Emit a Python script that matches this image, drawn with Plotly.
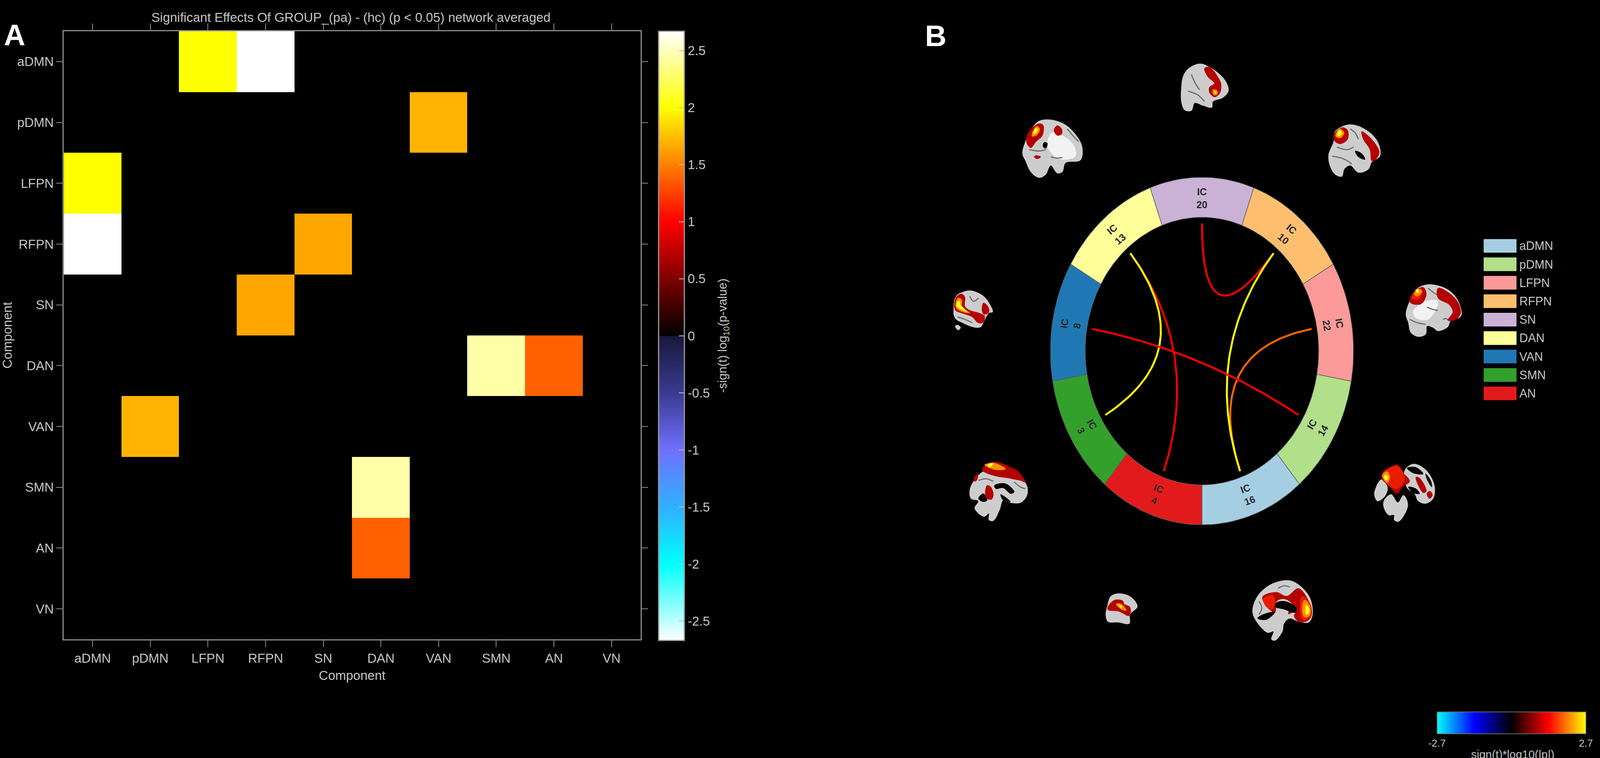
import numpy as np
import plotly.graph_objects as go
from plotly.colors import sample_colorscale

W, H = 4317, 1941
TXT = "#c4c4c4"
AXC = "#8a8a8a"
FONT = "Liberation Sans, Arial, sans-serif"

# panel A: network matrix, symmetric, upper triangle entries
networks = ["aDMN", "pDMN", "LFPN", "RFPN", "SN", "DAN", "VAN", "SMN", "AN", "VN"]
effects = [
    ("aDMN", "LFPN", 2.0),
    ("aDMN", "RFPN", 2.67),
    ("pDMN", "VAN", 1.7),
    ("RFPN", "SN", 1.65),
    ("DAN", "SMN", 2.44),
    ("DAN", "AN", 1.38),
]
tick_vals = [2.5, 2, 1.5, 1, 0.5, 0, -0.5, -1, -1.5, -2, -2.5]
tick_text = ["2.5", "2", "1.5", "1", "0.5", "0", "-0.5", "-1", "-1.5", "-2", "-2.5"]

# colour map of the matrix
cmap_vals = [-2.67, -2.0, -1.5, -1.0, -0.5, -0.005, 0, 1.0, 2.0, 2.67]
cmap_cols = ["#ffffff", "#00ffff", "#2fb0ff", "#7070ff", "#3a3a90", "#18183c",
             "#000000", "#ff0000", "#ffff00", "#ffffff"]

# panel B: ring, clockwise from the top
ic_names = [20, 10, 22, 14, 16, 4, 3, 8, 13]
ic_angle = [90, 50, 10, -30, -70, -110, -150, 170, 130]
ic_turn = [0, 40, 80, -60, -20, 20, 60, -80, -40]
ic_cols = ["#cab2d6", "#fdbf6f", "#fb9a99", "#b2df8a", "#a6cee3",
           "#e31a1c", "#33a02c", "#1f78b4", "#ffff99"]

chord_from = [13, 13, 22, 20, 10, 8]
chord_to = [4, 3, 16, 10, 16, 14]
chord_values = [1.35, 2.7, 1.89, 1.35, 2.7, 1.35]

legend_names = ["aDMN", "pDMN", "LFPN", "RFPN", "SN", "DAN", "VAN", "SMN", "AN"]
legend_cols = ["#a6cee3", "#b2df8a", "#fb9a99", "#fdbf6f", "#cab2d6",
               "#ffff99", "#1f78b4", "#33a02c", "#e31a1c"]

ring_scale = [[0, "#00ffff"], [0.25, "#0000ff"], [0.5, "#000000"], [0.75, "#ff0000"], [1, "#ffff00"]]

GREY = "#cdcdcd"
WHITE = "#f2f2f2"
DARK = "#000000"
RED = "#b40000"
HOT = "#ea1c00"
ORG = "#ff9000"
YEL = "#ffff20"
FOLD = "#6e6e6e"

# brain slices, outlines traced by eye: origin of the crop, scale of the crop, layers
brains = [
    # top
    ((2500, 100), 1.12, 3, [
        (GREY, [(825,190),(855,215),(885,270),(905,330),(912,400),(895,450),(865,480),(862,525),(835,510),(810,490),(800,550),(780,545),(770,480),(770,380),(775,290),(790,230)]),
        (FOLD, [(800,270),(810,330),(825,390)]),
        (FOLD, [(790,400),(820,430),(840,480)]),
        (RED, [(840,225),(855,215),(880,290),(890,350),(885,420),(870,445),(855,410),(855,370),(870,340),(850,290)]),
        (ORG, [(865,390),(878,395),(878,425),(868,430)]),
        (YEL, [(869,400),(875,405),(873,420)]),
    ]),
    # upper left
    ((2500, 100), 1.12, 3, [
        (GREY, [(340,630),(375,620),(420,660),(455,750),(470,830),(465,930),(420,950),(410,1020),(395,1030),(375,970),(360,1040),(340,1065),(315,1020),(300,940),(290,880),(300,780),(320,680)]),
        (WHITE, [(380,720),(440,800),(450,900),(400,920),(365,820)]),
        (FOLD, [(425,690),(445,750),(460,790)]),
        (FOLD, [(310,850),(340,860),(360,850)]),
        (FOLD, [(375,905),(395,915),(410,910)]),
        (RED, [(340,650),(352,660),(350,740),(330,790),(315,835),(303,800),(305,730),(325,670)]),
        (RED, [(395,665),(408,690),(408,730),(395,740),(385,700)]),
        (RED, [(330,895),(345,905),(335,920),(325,905)]),
        (DARK, [(355,795),(365,800),(360,840),(352,825)]),
        (ORG, [(332,670),(342,690),(332,740),(318,745)]),
        (YEL, [(330,685),(336,695),(328,725),(322,725)]),
    ]),
    # upper right
    ((2500, 100), 1.12, 3, [
        (GREY, [(1270,660),(1300,665),(1340,720),(1365,800),(1370,900),(1345,945),(1335,1000),(1305,1025),(1280,970),(1262,1000),(1255,1055),(1235,1040),(1220,980),(1215,890),(1230,790),(1235,710)]),
        (FOLD, [(1280,690),(1295,720),(1305,770)]),
        (FOLD, [(1240,830),(1270,850),(1290,830)]),
        (FOLD, [(1225,900),(1260,920),(1285,960)]),
        (RED, [(1255,680),(1272,700),(1272,770),(1250,805),(1232,780),(1232,730)]),
        (RED, [(1315,710),(1345,770),(1368,870),(1355,930),(1345,935),(1340,850),(1320,770)]),
        (DARK, [(1295,860),(1315,880),(1325,925),(1305,905)]),
        (ORG, [(1248,690),(1262,720),(1250,760),(1236,745)]),
        (YEL, [(1248,700),(1255,720),(1248,745),(1241,740)]),
    ]),
    # right
    ((3680, 700), 3, 2.376, [
        (GREY, [(370,170),(420,100),(500,70),(600,75),(700,110),(770,180),(785,260),(700,290),(680,325),(600,350),(560,330),(510,320),(500,370),(440,385),(380,360),(360,300),(340,250)]),
        (WHITE, [(400,230),(500,170),(600,170),(520,280),(420,270)]),
        (FOLD, [(510,205),(560,220),(600,225)]),
        (FOLD, [(640,280),(665,275),(680,285)]),
        (FOLD, [(520,90),(560,115),(590,130)]),
        (FOLD, [(370,280),(430,300),(500,310)]),
        (RED, [(370,170),(410,110),(480,85),(505,125),(465,185),(390,185)]),
        (RED, [(600,90),(700,125),(770,190),(780,250),(730,285),(680,285),(720,235),(690,190),(600,150)]),
        (HOT, [(385,150),(425,105),(470,100),(470,130),(430,160)]),
        (ORG, [(405,125),(450,95),(470,110),(430,140)]),
        (YEL, [(420,105),(440,97),(443,115),(428,118)]),
    ]),
    # lower right
    ((3680, 700), 3, 2.376, [
        (GREY, [(140,1255),(190,1300),(170,1355),(110,1385),(85,1340)]),
        (GREY, [(330,1200),(400,1160),(500,1195),(570,1290),(560,1370),(500,1400),(440,1385),(410,1340),(350,1305)]),
        (GREY, [(165,1380),(220,1345),(275,1395),(320,1350),(355,1400),(340,1450),(280,1510),(245,1500),(245,1470),(200,1470),(160,1420)]),
        (DARK, [(350,1185),(420,1180),(480,1220),(400,1215)]),
        (DARK, [(500,1220),(540,1260),(550,1300),(515,1260)]),
        (DARK, [(360,1300),(420,1310),(450,1340),(400,1335)]),
        (RED, [(150,1215),(210,1180),(275,1165),(300,1200),(370,1265),(310,1300),(270,1340),(200,1290),(145,1250)]),
        (RED, [(420,1240),(450,1245),(505,1325),(480,1335)]),
        (RED, [(510,1340),(535,1325),(555,1350),(530,1370)]),
        (HOT, [(150,1225),(205,1185),(280,1175),(330,1250),(270,1310),(190,1285)]),
        (ORG, [(150,1230),(185,1205),(210,1235),(190,1275)]),
        (YEL, [(165,1230),(185,1230),(195,1250),(175,1258)]),
    ]),
    # bottom right
    ((2950, 1440), 2.529, 3, [
        (GREY, [(1130,245),(1220,165),(1340,140),(1420,190),(1480,280),(1495,400),(1470,460),(1400,455),(1340,430),(1300,470),(1290,530),(1240,600),(1215,590),(1230,530),(1190,540),(1130,480),(1090,400),(1090,340)]),
        (FOLD, [(1260,200),(1300,180),(1340,190)]),
        (FOLD, [(1130,300),(1150,350),(1130,400)]),
        (RED, [(1155,265),(1250,230),(1320,260),(1400,200),(1470,300),(1490,400),(1460,450),(1400,455),(1370,410),(1390,370),(1330,395),(1355,320),(1300,280),(1250,300),(1240,380),(1190,350)]),
        (DARK, [(1250,310),(1310,300),(1385,350),(1380,385),(1300,360),(1240,340)]),
        (DARK, [(1160,400),(1240,380),(1180,440),(1120,430)]),
        (HOT, [(1160,280),(1225,255),(1240,310),(1220,360),(1180,340)]),
        (HOT, [(1425,260),(1480,320),(1485,410),(1430,445),(1410,360)]),
        (ORG, [(1440,290),(1475,330),(1475,410),(1440,420),(1425,360)]),
        (YEL, [(1452,330),(1470,350),(1470,390),(1452,400)]),
    ]),
    # bottom left
    ((2950, 1440), 2.529, 3, [
        (GREY, [(120,260),(180,240),(260,270),(300,340),(250,400),(245,470),(170,460),(100,455),(85,400),(95,340)]),
        (RED, [(100,340),(145,290),(200,295),(210,320),(250,345),(245,410),(170,375),(100,365)]),
        (ORG, [(155,320),(190,320),(225,370),(190,360)]),
        (YEL, [(175,325),(195,340),(190,350)]),
    ]),
    # lower left
    ((2540, 700), 3, 2.376, [
        (GREY, [(330,1210),(420,1195),(560,1240),(660,1260),(695,1300),(690,1355),(640,1395),(560,1395),(500,1380),(470,1440),(420,1505),(385,1500),(385,1460),(345,1480),(270,1430),(300,1385),(240,1370),(230,1320),(265,1260)]),
        (DARK, [(430,1290),(520,1280),(590,1330),(560,1340),(500,1305),(440,1310)]),
        (DARK, [(340,1340),(370,1380),(340,1390),(300,1370)]),
        (DARK, [(480,1345),(560,1390),(500,1380)]),
        (FOLD, [(300,1260),(360,1250),(420,1265)]),
        (FOLD, [(590,1270),(640,1300),(680,1310)]),
        (RED, [(330,1190),(380,1155),(460,1150),(560,1180),(620,1205),(680,1270),(640,1260),(570,1250),(540,1245),(450,1235),(340,1205)]),
        (RED, [(370,1290),(400,1300),(420,1350),(405,1375),(370,1370),(355,1340)]),
        (RED, [(270,1235),(295,1225),(285,1260),(265,1265)]),
        (ORG, [(350,1165),(430,1155),(520,1190),(440,1195)]),
        (YEL, [(375,1165),(420,1155),(410,1170),(385,1180)]),
    ]),
    # left
    ((2540, 700), 3, 2.376, [
        (GREY, [(100,215),(105,165),(130,130),(170,115),(230,105),(300,120),(350,145),(385,180),(415,235),(385,240),(345,290),(320,325),(285,330),(230,320),(170,300),(120,280),(100,250)]),
        (GREY, [(112,320),(135,315),(155,330),(135,345)]),
        (FOLD, [(230,140),(260,170),(300,150)]),
        (FOLD, [(130,265),(190,280),(250,300)]),
        (RED, [(105,190),(125,140),(165,125),(190,145),(190,200),(230,225),(300,240),(330,250),(350,260),(335,300),(295,300),(250,265),(180,245),(115,225)]),
        (RED, [(340,180),(375,200),(385,235),(345,250),(330,230)]),
        (ORG, [(115,190),(135,150),(165,160),(165,205),(230,240),(190,238),(125,215)]),
        (YEL, [(125,180),(145,165),(155,190),(210,235),(180,225),(130,205)]),
    ]),
]


def px(x):
    return x / W


def py(y):
    return 1 - y / H


fig = go.Figure()

# matrix
z = [[0 for _ in networks] for _ in networks]
for a, b, v in effects:
    i, j = networks.index(a), networks.index(b)
    z[i][j] = v
    z[j][i] = v

stops = [[(v + 2.67) / 5.34, c] for v, c in zip(cmap_vals, cmap_cols)]
fig.add_trace(go.Heatmap(
    z=z, x=networks, y=networks, zmin=-2.67, zmax=2.67, colorscale=stops,
    xaxis="x", yaxis="y",
    colorbar=dict(
        x=px(1777), xanchor="left", xpad=0, y=py(860), yanchor="middle", ypad=0,
        len=1560 / H, lenmode="fraction", thickness=70 / W, thicknessmode="fraction",
        outlinecolor="#9a9a9a", outlinewidth=3,
        tickvals=tick_vals, ticktext=tick_text, ticks="inside", ticklen=15,
        tickwidth=2, tickcolor="#c0c0c0",
        tickfont=dict(size=33, color=TXT, family=FONT),
    ),
))

# ring sectors
for name, ang, col in zip(ic_names, ic_angle, ic_cols):
    t = np.radians(np.arange(ang - 20, ang + 21, 2))
    xs = np.concatenate([np.cos(t), 0.77 * np.cos(t[::-1])])
    ys = np.concatenate([np.sin(t), 0.77 * np.sin(t[::-1])])
    fig.add_trace(go.Scatter(
        x=np.append(xs, xs[0]), y=np.append(ys, ys[0]), mode="lines", fill="toself",
        fillcolor=col, line=dict(color="#5a5a5a", width=1.5), xaxis="x2", yaxis="y2",
        name="IC " + str(name), hoverinfo="name",
    ))

# chords, quadratic curves pulled through the centre of the ring
R_END = 0.735
chord_cols = sample_colorscale(ring_scale, [(v + 2.7) / 5.4 for v in chord_values])
ends_x, ends_y = [], []
for a, b, col in zip(chord_from, chord_to, chord_cols):
    t0 = np.radians(ic_angle[ic_names.index(a)])
    t1 = np.radians(ic_angle[ic_names.index(b)])
    s = np.linspace(0, 1, 60)
    cx = (1 - s) ** 2 * R_END * np.cos(t0) + s ** 2 * R_END * np.cos(t1)
    cy = (1 - s) ** 2 * R_END * np.sin(t0) + s ** 2 * R_END * np.sin(t1)
    ends_x.append(cx[30])
    ends_y.append(cy[30])
    fig.add_trace(go.Scatter(x=cx, y=cy, mode="lines", line=dict(color=col, width=5),
                             xaxis="x2", yaxis="y2", hoverinfo="skip"))

# carries the small colour bar of panel B
fig.add_trace(go.Scatter(
    x=ends_x, y=ends_y, mode="markers", xaxis="x2", yaxis="y2", hoverinfo="skip",
    marker=dict(
        size=2, opacity=0, color=chord_values, cmin=-2.7, cmax=2.7, colorscale=ring_scale,
        showscale=True,
        colorbar=dict(
            orientation="h", x=px(4078), xanchor="center", xpad=0,
            y=py(1823), yanchor="top", ypad=0,
            len=402 / W, lenmode="fraction", thickness=56 / H, thicknessmode="fraction",
            outlinecolor="#6a6a6a", outlinewidth=2,
            tickvals=[-2.7, 2.7], ticktext=["-2.7", "2.7"], ticks="",
            tickfont=dict(size=26, color=TXT, family=FONT),
        ),
    ),
))

# legend of the networks
fig.add_trace(go.Bar(
    x=[1] * len(legend_names), y=legend_names, orientation="h",
    marker=dict(color=legend_cols, line=dict(width=0)),
    xaxis="x4", yaxis="y4", hoverinfo="y",
))

# brain slices
for (ox, oy), sx, sy, layers in brains:
    for col, pts in layers:
        xs = [ox + p[0] / sx for p in pts]
        ys = [oy + p[1] / sy for p in pts]
        if col == FOLD:
            fig.add_trace(go.Scatter(
                x=xs, y=ys, mode="lines", xaxis="x3", yaxis="y3", hoverinfo="skip",
                line=dict(color=col, width=3, shape="spline"),
            ))
            continue
        fig.add_trace(go.Scatter(
            x=xs + xs[:1], y=ys + ys[:1], mode="lines", fill="toself", fillcolor=col,
            line=dict(color=col, width=1, shape="spline", smoothing=1),
            xaxis="x3", yaxis="y3", hoverinfo="skip",
        ))

fig.update_traces(showlegend=False)

hidden = dict(visible=False, showgrid=False, zeroline=False)
tick_font = dict(size=33, color=TXT, family=FONT)

annos = [
    dict(text="<b>A</b>", x=px(40), y=py(45), font=dict(size=76, color="white", family=FONT)),
    dict(text="<b>B</b>", x=px(2525), y=py(47), font=dict(size=76, color="white", family=FONT)),
    dict(text="-sign(t) log<sub>10</sub>(p-value)", x=px(1952), y=py(860), textangle=-90,
         font=dict(size=31, color=TXT, family=FONT)),
    dict(text="sign(t)*log10(|p|)", x=px(4081), y=py(1950),
         font=dict(size=29, color=TXT, family=FONT)),
]
annos = [dict(a, xref="paper", yref="paper", showarrow=False, xanchor="center") for a in annos]

for name, ang, turn in zip(ic_names, ic_angle, ic_turn):
    annos.append(dict(
        text="<b>IC<br>" + str(name) + "</b>", textangle=turn, showarrow=False,
        x=0.88 * np.cos(np.radians(ang)), y=0.88 * np.sin(np.radians(ang)),
        xref="x2", yref="y2", font=dict(size=25, color="#262626", family=FONT),
    ))

# second row of colour bar ticks, on the left edge of the bar
shapes = [dict(type="line", xref="paper", yref="paper", x0=px(1777), x1=px(1792),
               y0=py(860 - v * 292), y1=py(860 - v * 292),
               line=dict(color="#c0c0c0", width=2)) for v in tick_vals]

fig.update_layout(
    margin=dict(l=0, r=0, t=0, b=0),
    paper_bgcolor="black", plot_bgcolor="rgba(0,0,0,0)", showlegend=False,
    font=dict(family=FONT, color=TXT),
    title=dict(text="Significant Effects Of GROUP_(pa) - (hc) (p &lt; 0.05) network averaged",
               x=px(947), y=py(44), xanchor="center", yanchor="middle",
               font=dict(size=33, color=TXT, family=FONT)),
    xaxis=dict(
        domain=[px(172), px(1728)], anchor="y", type="category", categoryorder="array",
        categoryarray=networks, showgrid=False, zeroline=False,
        showline=True, linecolor=AXC, linewidth=3, mirror="ticks", ticks="outside",
        ticklen=17, tickwidth=2, tickcolor=AXC, tickfont=tick_font, ticklabelstandoff=0,
        title=dict(text="Component", font=tick_font, standoff=16), automargin=False,
    ),
    yaxis=dict(
        domain=[py(1637), py(80)], anchor="x", type="category", categoryorder="array",
        categoryarray=networks, autorange="reversed", showgrid=False, zeroline=False,
        showline=True, linecolor=AXC, linewidth=3, mirror="ticks", ticks="outside",
        ticklen=16, tickwidth=2, tickcolor=AXC, tickfont=tick_font, ticklabelstandoff=0,
        title=dict(text="Component", font=tick_font, standoff=22), automargin=False,
    ),
    xaxis2=dict(hidden, domain=[px(2834), px(3652)], range=[-1, 1], anchor="y2"),
    yaxis2=dict(hidden, domain=[py(1344), py(454)], range=[-1, 1], anchor="x2"),
    xaxis3=dict(hidden, domain=[0, 1], range=[0, W], anchor="y3"),
    yaxis3=dict(hidden, domain=[0, 1], range=[H, 0], anchor="x3"),
    xaxis4=dict(hidden, domain=[px(4003), px(4092)], range=[0, 1], anchor="y4"),
    yaxis4=dict(
        domain=[py(1031), py(606)], anchor="x4", side="right", type="category",
        categoryorder="array", categoryarray=legend_names, autorange="reversed",
        showgrid=False, zeroline=False, showline=False, ticks="", ticklabelstandoff=6,
        tickfont=dict(size=30.5, color=TXT, family=FONT), automargin=False,
    ),
    bargap=0.26,
    annotations=annos,
    shapes=shapes,
)

fig.write_html("out.html", config=dict(displayModeBar=False),
               post_script="document.body.style.margin='0';document.body.style.overflow='hidden';"
                           "Plotly.Plots.resize('{plot_id}');")
